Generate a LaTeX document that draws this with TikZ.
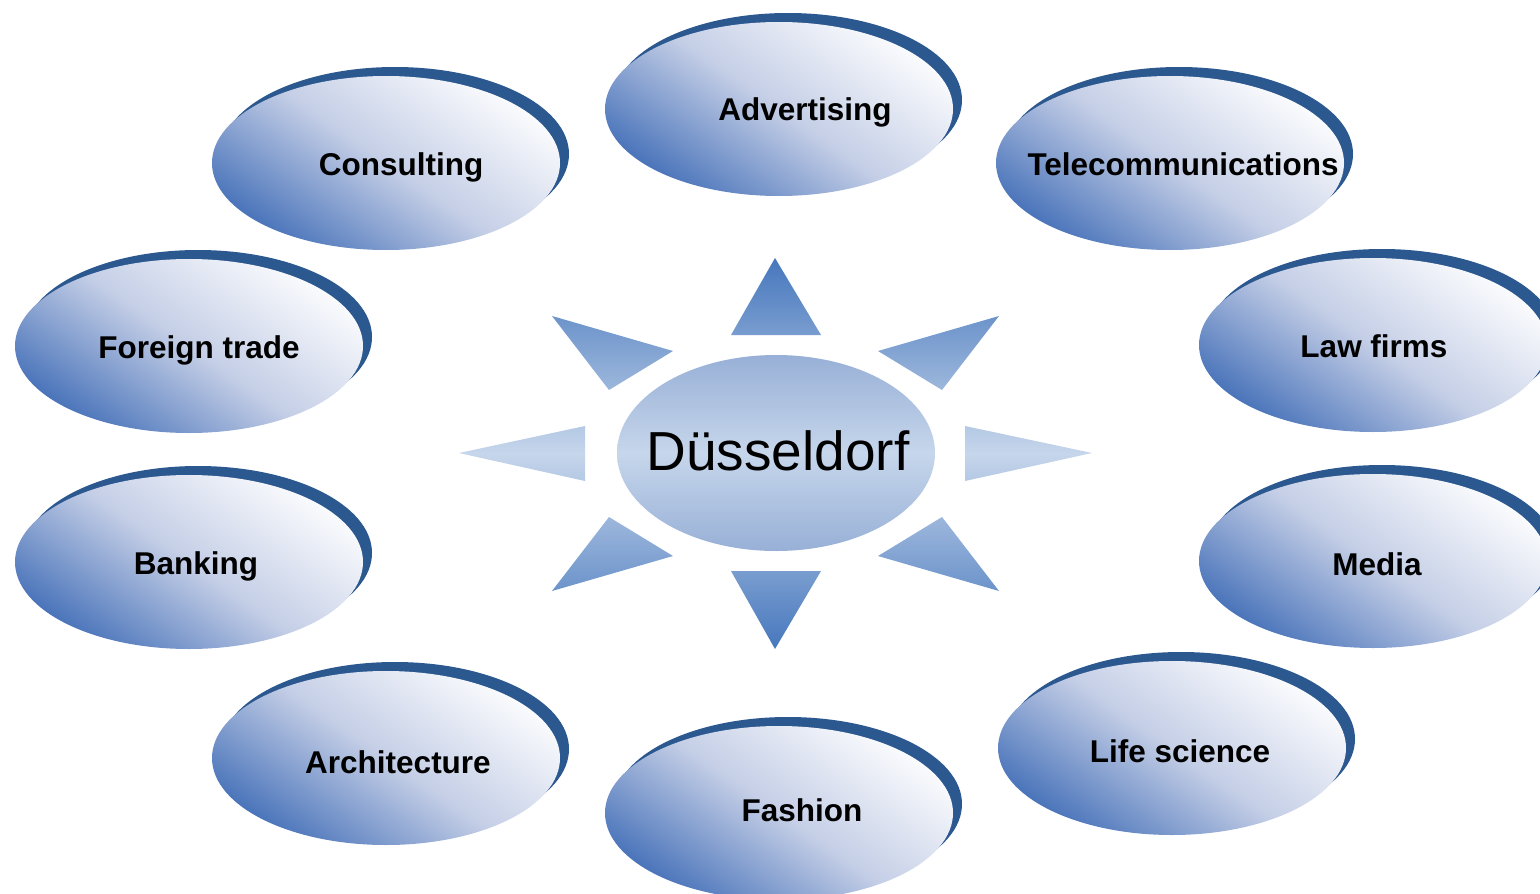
\documentclass[tikz,border=0pt]{standalone}
\usepackage{fontspec}
\setmainfont{Liberation Sans}
\usetikzlibrary{shapes.geometric}
\definecolor{shadowblue}{HTML}{2C5890}
\definecolor{elldark}{HTML}{4A74BA}
\definecolor{ellmid}{HTML}{C4CEE6}
\definecolor{elllight}{HTML}{FAFBFD}
\definecolor{sundark}{HTML}{4677BD}
\definecolor{sunlight}{HTML}{C6D6EB}
\definecolor{coreedge}{HTML}{98B0D7}
\newcommand\bubble[6]{%
  \node[shadowell] (#1s) at (#2+9,#3-9) {};
  \node[mainell] (#1) at (#2,#3) {};
  \node[lbl] (#1t) at (#4,#5) {#6};
}
\begin{document}
\begin{tikzpicture}[x=1pt,y=-1pt,
  shadowell/.style={ellipse, fill=shadowblue, minimum width=348pt, minimum height=174pt, inner sep=0pt},
  mainell/.style={ellipse, minimum width=348pt, minimum height=174pt, inner sep=0pt,
    top color=elllight, bottom color=elldark, middle color=ellmid, shading angle=-35},
  lbl/.style={font=\bfseries\fontsize{31.5}{36}\selectfont, anchor=base, inner sep=0pt},
  sunrays/.style={top color=sundark, bottom color=sundark, middle color=sunlight},
  core/.style={ellipse, minimum width=318pt, minimum height=196pt, inner sep=0pt,
    top color=coreedge, bottom color=coreedge, middle color=sunlight},
  coretext/.style={font=\fontsize{55}{60}\selectfont, inner sep=0pt}]
\useasboundingbox (0,0) rectangle (1540,894);

\bubble{adv}{779}{109}{805}{120}{Advertising}
\bubble{con}{386}{163}{401}{175}{Consulting}
\bubble{tel}{1170}{163}{1183}{175}{Telecommunications}
\bubble{for}{189}{346}{199}{358}{Foreign trade}
\bubble{law}{1373}{345}{1374}{357}{Law firms}
\bubble{ban}{189}{562}{196}{574}{Banking}
\bubble{med}{1373}{561}{1377}{575}{Media}
\bubble{arc}{386}{758}{398}{773}{Architecture}
\bubble{lif}{1172}{748}{1180}{762}{Life science}
\bubble{fas}{779}{813}{802}{821}{Fashion}

\shade[sunrays]
  (775,258) -- (821,335) -- (731,335) -- cycle
  (775,649) -- (821,571) -- (731,571) -- cycle
  (459,453) -- (585,426) -- (585,481) -- cycle
  (1092,453) -- (965,426) -- (965,481) -- cycle
  (552,316) -- (673,351) -- (609,390) -- cycle
  (999,316) -- (878,351) -- (942,390) -- cycle
  (552,591) -- (673,556) -- (609,517) -- cycle
  (999,591) -- (878,556) -- (942,517) -- cycle;

\node[core] (dus) at (776,453) {};
\node[coretext] (dust) at (778,451) {Düsseldorf};
\end{tikzpicture}
\end{document}
